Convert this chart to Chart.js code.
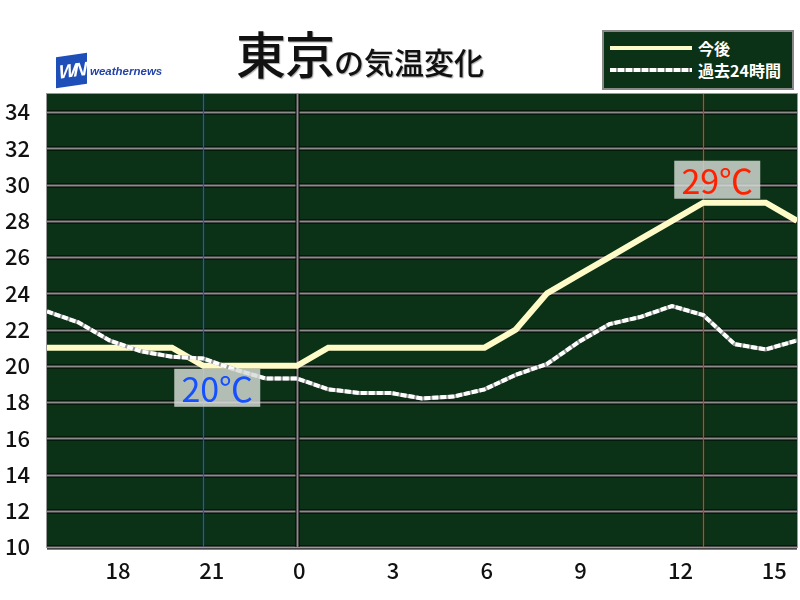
<!DOCTYPE html>
<html>
<head>
<meta charset="utf-8">
<script src="https://cdn.jsdelivr.net/npm/chart.js@4.4.0/dist/chart.umd.min.js"></script>
<style>
  body { margin: 0; background: #fff; }
  #wrap { position: relative; width: 800px; height: 600px; font-family: "Noto Sans CJK JP", sans-serif; overflow: hidden; }
  #chart { position: absolute; left: 0; top: 0; }
  .title { position: absolute; left: 236px; top: 16px; color: #111; white-space: nowrap; text-shadow: 1px 1px 1px #aaa; }
  .title .big { font-size: 50px; font-weight: 500; letter-spacing: -1px; }
  .title .small { font-size: 30px; font-weight: 500; }
  .logo { position: absolute; left: 56px; top: 55px; width: 31px; height: 31px; background: #1e4fb8; transform: skewY(-8deg);
          color: #fff; font: italic bold 19px "Liberation Sans", sans-serif; line-height: 31px; text-align: center; letter-spacing: -3px; }
  .logo-text { position: absolute; left: 90px; top: 65px; color: #2444a8; font: italic bold 11.5px "Liberation Sans", sans-serif; }
  .legend { position: absolute; left: 602px; top: 30px; width: 188px; height: 56px; background: #0b3116; border: 2px solid #888; }
  .legend .row { position: absolute; left: 4px; height: 20px; color: #fff; font-size: 16px; font-weight: bold; line-height: 20px; }
  .legend .sample { position: absolute; left: 2px; top: 8px; width: 82px; height: 4px; }
  .legend .lbl { position: absolute; left: 90px; top: 0; white-space: nowrap; }
</style>
</head>
<body>
<div id="wrap">
  <canvas id="chart" width="800" height="600"></canvas>
  <div class="logo">WN</div>
  <div class="logo-text">weathernews</div>
  <div class="title"><span class="big">東京</span><span class="small">の気温変化</span></div>
  <div class="legend">
    <div class="row" style="top:6px"><div class="sample" style="background:#fffbc8"></div><span class="lbl">今後</span></div>
    <div class="row" style="top:28px"><div class="sample" style="background:repeating-linear-gradient(90deg,#fff 0 6px,#999 6px 8px)"></div><span class="lbl">過去24時間</span></div>
  </div>
</div>
<script>
// hour labels, index 0 = 16:00
const hours = ["16","17","18","19","20","21","22","23","0","1","2","3","4","5","6","7","8","9","10","11","12","13","14","15","16"];
const xTicks = [2, 5, 8, 11, 14, 17, 20, 23];
const yTicks = [10, 12, 14, 16, 18, 20, 22, 24, 26, 28, 30, 32, 34];

const forecast = [21, 21, 21, 21, 21, 20, 20, 20, 20, 21, 21, 21, 21, 21, 21, 22, 24, 25, 26, 27, 28, 29, 29, 29, 28];
const past24h = [23.0, 22.4, 21.4, 20.8, 20.5, 20.4, 19.8, 19.3, 19.3, 18.7, 18.5, 18.5, 18.2, 18.3, 18.7, 19.5, 20.1, 21.3, 22.3, 22.7, 23.3, 22.8, 21.2, 20.9, 21.4];

const toPoints = arr => arr.map((v, i) => ({ x: i, y: v }));

const minIdx = forecast.indexOf(Math.min(...forecast));
const maxIdx = forecast.indexOf(Math.max(...forecast));

const decor = {
  id: "decor",
  beforeDatasetsDraw(chart) {
    const { ctx, chartArea: a, scales: { x, y } } = chart;
    ctx.save();
    ctx.fillStyle = "#0b3216";
    ctx.fillRect(a.left, a.top, a.right - a.left, a.bottom - a.top);
    // horizontal grid: black edge + gray core
    y.ticks.forEach(t => {
      const py = Math.round(y.getPixelForValue(t.value)) + 0.5;
      ctx.strokeStyle = "#000"; ctx.lineWidth = 4;
      ctx.beginPath(); ctx.moveTo(a.left, py); ctx.lineTo(a.right, py); ctx.stroke();
      ctx.strokeStyle = "#8c8c8c"; ctx.lineWidth = 2;
      ctx.beginPath(); ctx.moveTo(a.left, py); ctx.lineTo(a.right, py); ctx.stroke();
    });
    // midnight line
    const px0 = Math.round(x.getPixelForValue(8)) + 0.5;
    ctx.strokeStyle = "#000"; ctx.lineWidth = 4;
    ctx.beginPath(); ctx.moveTo(px0, a.top); ctx.lineTo(px0, a.bottom); ctx.stroke();
    ctx.strokeStyle = "#8c8c8c"; ctx.lineWidth = 2;
    ctx.beginPath(); ctx.moveTo(px0, a.top); ctx.lineTo(px0, a.bottom); ctx.stroke();
    // min / max time markers
    ctx.lineWidth = 1.2;
    [[minIdx, "#2a48ff"], [maxIdx, "#ff2a10"]].forEach(([i, c]) => {
      const px = Math.round(x.getPixelForValue(i)) + 0.5;
      ctx.strokeStyle = c;
      ctx.beginPath(); ctx.moveTo(px, a.top); ctx.lineTo(px, a.bottom); ctx.stroke();
    });
    ctx.strokeStyle = "#999"; ctx.lineWidth = 1;
    ctx.strokeRect(a.left - 0.5, a.top - 0.5, a.right - a.left + 1, a.bottom - a.top + 1);
    ctx.restore();
  },
  afterDatasetsDraw(chart) {
    const { ctx, scales: { x, y } } = chart;
    const boxes = [
      { i: minIdx, color: "#1450ff", below: true },
      { i: maxIdx, color: "#ff2000", below: false }
    ];
    ctx.save();
    boxes.forEach(b => {
      const v = forecast[b.i];
      const px = x.getPixelForValue(b.i);
      const py = y.getPixelForValue(v);
      const w = 86, h = 38;
      const left = px - 29;
      const top = b.below ? py + 3 : py - 4 - h;
      ctx.fillStyle = "rgba(215,220,215,0.82)";
      ctx.fillRect(left, top, w, h);
      ctx.fillStyle = b.color;
      ctx.font = '34px "Noto Sans CJK JP", sans-serif';
      ctx.textAlign = "center";
      ctx.textBaseline = "middle";
      ctx.fillText(v + "℃", left + w / 2, top + h / 2 + 1);
    });
    ctx.restore();
  }
};

new Chart(document.getElementById("chart"), {
  type: "line",
  data: {
    datasets: [
      { label: "過去24時間", data: toPoints(past24h), borderColor: "#ffffff", borderWidth: 4, borderDash: [6, 2], pointRadius: 0, tension: 0 },
      { label: "", data: toPoints(past24h), borderColor: "#9a9a9a", borderWidth: 4, pointRadius: 0, tension: 0 },
      { label: "今後", data: toPoints(forecast), borderColor: "#fffbc8", borderWidth: 6, pointRadius: 0, tension: 0, borderJoinStyle: "miter" }
    ]
  },
  options: {
    responsive: false,
    animation: false,
    layout: { padding: { left: 0, right: 3, top: 94, bottom: 0 } },
    plugins: { legend: { display: false }, tooltip: { enabled: false } },
    scales: {
      x: {
        type: "linear", min: 0, max: 24,
        afterBuildTicks: s => { s.ticks = xTicks.map(v => ({ value: v })); },
        afterFit: s => { s.height = 53; },
        grid: { display: false },
        border: { display: false },
        ticks: {
          align: "start", labelOffset: -4, padding: 2,
          color: "#111", font: { family: "Noto Sans CJK JP", size: 22, weight: 500 },
          callback: v => hours[v]
        }
      },
      y: {
        min: 10, max: 35,
        afterBuildTicks: s => { s.ticks = yTicks.map(v => ({ value: v })); },
        afterFit: s => { s.width = 47; },
        grid: { display: false },
        border: { display: false },
        ticks: { padding: 9, color: "#111", font: { family: "Noto Sans CJK JP", size: 22, weight: 500 } }
      }
    }
  },
  plugins: [decor]
});
</script>
</body>
</html>
